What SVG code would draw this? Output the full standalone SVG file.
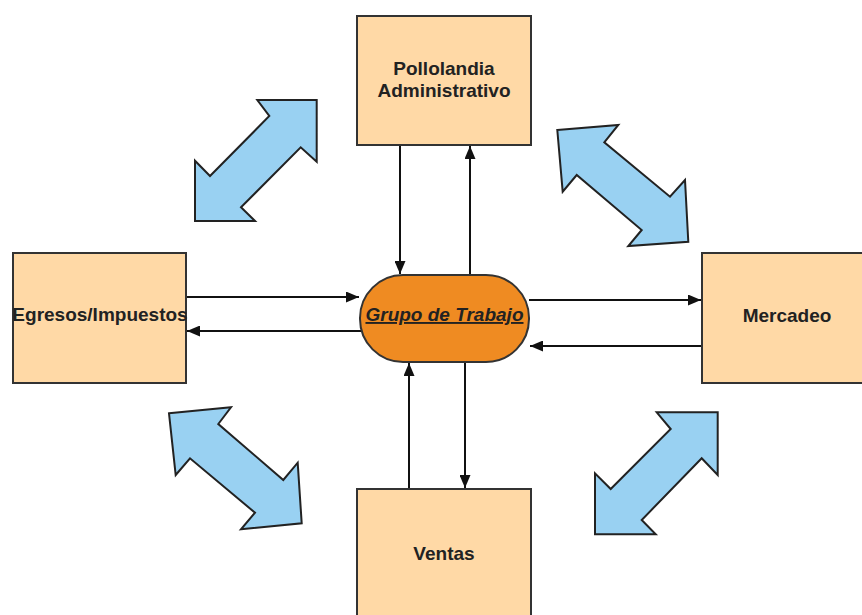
<svg xmlns="http://www.w3.org/2000/svg" width="862" height="615" viewBox="0 0 862 615">
<style>
.box{fill:#FFD9A6;stroke:#333;stroke-width:2}
.pill{fill:#EF8B22;stroke:#333;stroke-width:2}
.lbl{font-family:"Liberation Sans",Arial,sans-serif;font-weight:bold;font-size:19px;fill:#222;text-anchor:middle}
.dbl{fill:#99D1F2;stroke:#222;stroke-width:2;stroke-linejoin:miter}
.con{stroke:#111;stroke-width:2;fill:none;marker-end:url(#ah)}
</style>
<defs>
<marker id="ah" viewBox="0 0 13 11" refX="13" refY="5.5" markerWidth="13" markerHeight="11" markerUnits="userSpaceOnUse" orient="auto">
<path d="M0,0 L13,5.5 L0,11 Z" fill="#111"/>
</marker>
</defs>
<rect width="862" height="615" fill="#fff"/>
<g id="doublearrows">
<polygon class="dbl" points="316.7,100 316.7,161.7 300.7,147.3 241,207.3 255,221 195,221 195,160.7 210,176 269.3,116 257.3,100"/>
<polygon class="dbl" points="717.7,412.3 717.7,475 701.7,458.3 641.7,520 655.7,534.3 595,534.3 595,473.3 610.7,489 670.7,429 656.7,412.3"/>
<polygon class="dbl" points="557.3,130 618.3,125 604.3,142.3 670,196.7 685,180 688.3,241.7 628.3,246 641.7,230 576.7,175 562.7,191.7"/>
<polygon class="dbl" points="169,413.3 231,407.3 218.3,424 283.3,480 297.7,462.7 301.7,523.3 241,529.3 255,512.7 190,458.3 175.7,475"/>
</g>
<g id="connectors">
<line class="con" x1="400" y1="146" x2="400" y2="274"/>
<line class="con" x1="470" y1="274" x2="470" y2="146"/>
<line class="con" x1="187" y1="297" x2="359" y2="297"/>
<line class="con" x1="361" y1="331" x2="187" y2="331"/>
<line class="con" x1="529" y1="300" x2="701" y2="300"/>
<line class="con" x1="702" y1="346" x2="530" y2="346"/>
<line class="con" x1="465" y1="362" x2="465" y2="488"/>
<line class="con" x1="409" y1="489" x2="409" y2="363"/>
</g>
<g id="pollolandia">
<rect class="box" x="357" y="16" width="174" height="129"/>
<text class="lbl" x="444" y="75">Pollolandia</text>
<text class="lbl" x="444" y="97">Administrativo</text>
</g>
<g id="egresos">
<rect class="box" x="13" y="253" width="173" height="130"/>
<text class="lbl" x="100" y="321">Egresos/Impuestos</text>
</g>
<g id="mercadeo">
<rect class="box" x="702" y="253" width="174" height="130"/>
<text class="lbl" x="787" y="322">Mercadeo</text>
</g>
<g id="ventas">
<rect class="box" x="357" y="489" width="174" height="140"/>
<text class="lbl" x="444" y="560">Ventas</text>
</g>
<g id="grupo">
<rect class="pill" x="360" y="275" width="169" height="87" rx="43" ry="43"/>
<text class="lbl" x="444.5" y="321" font-style="italic" text-decoration="underline">Grupo de Trabajo</text>
</g>
</svg>
